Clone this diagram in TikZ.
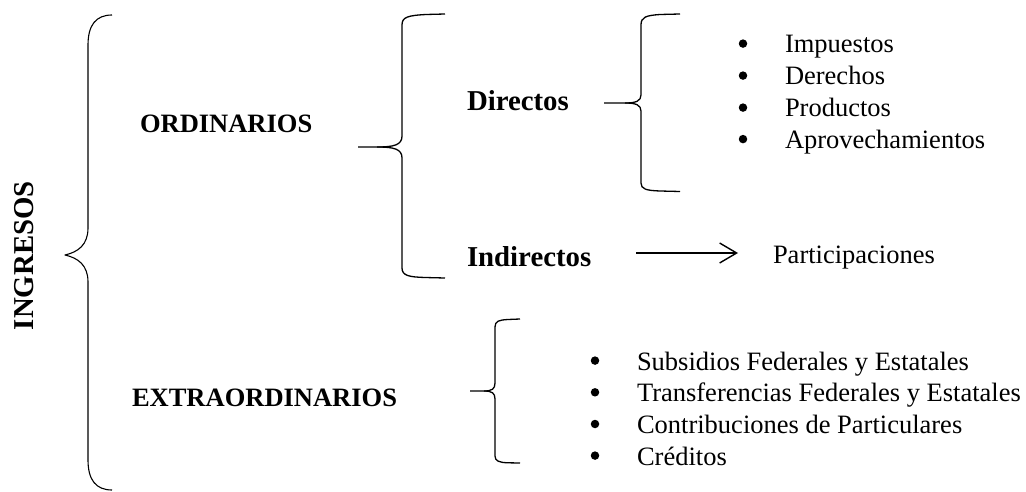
\documentclass[tikz,border=0pt]{standalone}
\usepackage{fontspec}
\setmainfont{Liberation Serif}
\usetikzlibrary{arrows.meta}
\tikzset{
  txt/.style={inner sep=0pt, outer sep=0pt, anchor=base west, font=\fontsize{26.5}{31.7}\selectfont},
  boldtxt/.style={txt, font=\fontsize{26.5}{31.7}\selectfont\bfseries},
  headtxt/.style={txt, font=\fontsize{28.8}{34}\selectfont\bfseries},
  dot/.style={circle, fill=black, inner sep=0pt, minimum size=8.5pt},
  bracepath/.style={line width=1.3pt, line join=round},
  arr/.style={line width=1.4pt, -{Straight Barb[length=17pt,width=20pt,line width=1.4pt]}},
}
\begin{document}
\begin{tikzpicture}[x=1pt,y=-1pt]
\useasboundingbox (0,0) rectangle (1026,492);

% INGRESOS
\node[headtxt, rotate=90] (ing) at (33,330) {INGRESOS};

% big brace
\draw[line width=1.1pt, line join=round] (112,15) .. controls (96,15) and (88,25) .. (88,45)
  -- (88,228) .. controls (88,245) and (78,252) .. (65,255)
  .. controls (78,258) and (88,265) .. (88,282)
  -- (88,460) .. controls (88,480) and (96,490) .. (112,490);

% level 1 labels
\node[boldtxt] (ord) at (140,133) {ORDINARIOS};
\node[boldtxt] (ext) at (132,406) {EXTRAORDINARIOS};

% brace for ORDINARIOS
\draw[bracepath] (445,14) -- (426,14.5) .. controls (408,15.5) and (402,17) .. (402,25)
  -- (402,136) .. controls (402,145) and (394,147) .. (377,147) -- (358,147);
\draw[bracepath] (377,147) .. controls (394,147) and (402,149) .. (402,158)
  -- (402,268) .. controls (402,276) and (410,277) .. (425,277.5) -- (445,278);

% level 2 labels
\node[headtxt] (dir) at (467,111) {Directos};
\node[headtxt] (ind) at (467,266) {Indirectos};

% brace for Directos
\draw[bracepath] (680,14) -- (660,14.5) .. controls (646,15.5) and (641,17) .. (641,25)
  -- (641,95) .. controls (641,101) and (636,103) .. (625,103) -- (604,103);
\draw[bracepath] (625,103) .. controls (636,103) and (641,105) .. (641,111)
  -- (641,183) .. controls (641,189) and (646,190.5) .. (660,191) -- (680,191.5);

% Directos list
\node[dot] (db1) at (743,43.6) {};
\node[dot] (db2) at (743,75.6) {};
\node[dot] (db3) at (743,107.6) {};
\node[dot] (db4) at (743,139.1) {};
\node[txt] (d1) at (785,53) {Impuestos};
\node[txt] (d2) at (785,85) {Derechos};
\node[txt] (d3) at (785,117) {Productos};
\node[txt] (d4) at (785,148.5) {Aprovechamientos};

% Indirectos arrow
\node[txt] (par) at (773,263) {Participaciones};
\coordinate (a1) at (636,253);
\coordinate (a2) at (738,253);
\draw[arr] (a1) -- (a2);

% brace for EXTRAORDINARIOS
\draw[bracepath] (520,319) -- (508,319.5) .. controls (499,320) and (495,321) .. (495,327)
  -- (495,383) .. controls (495,389) and (492,391) .. (484,391) -- (470,391);
\draw[bracepath] (484,391) .. controls (492,391) and (495,393) .. (495,399)
  -- (495,456) .. controls (495,461) and (499,462.5) .. (508,462.8) -- (520,463);

% EXTRAORDINARIOS list
\node[dot] (eb1) at (595,360.6) {};
\node[dot] (eb2) at (595,392.3) {};
\node[dot] (eb3) at (595,424) {};
\node[dot] (eb4) at (595,455.6) {};
\node[txt] (e1) at (637,370) {Subsidios Federales y Estatales};
\node[txt] (e2) at (637,401.7) {Transferencias Federales y Estatales};
\node[txt] (e3) at (637,433.4) {Contribuciones de Particulares};
\node[txt] (e4) at (637,465) {Créditos};
\end{tikzpicture}
\end{document}
